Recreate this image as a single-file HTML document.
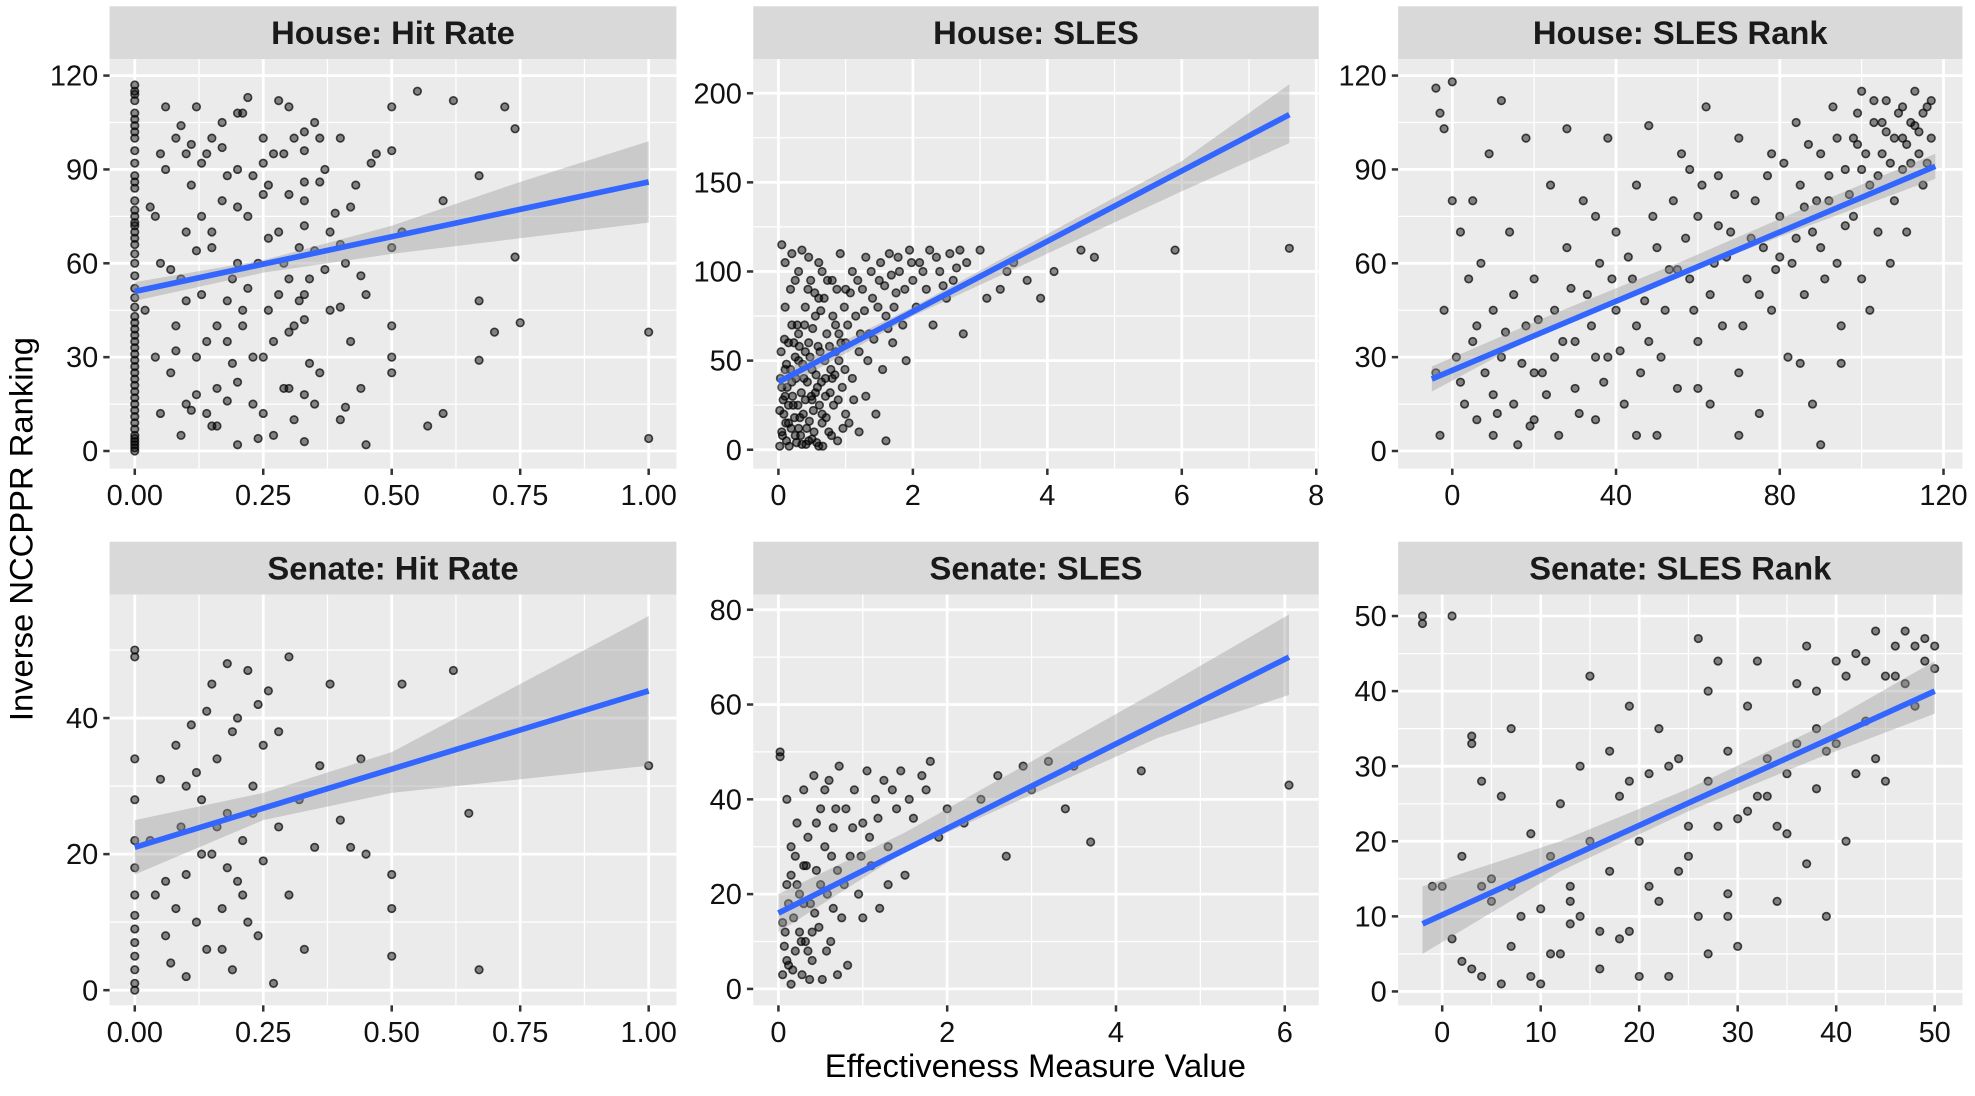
<!DOCTYPE html>
<html><head><meta charset="utf-8"><style>
html,body{margin:0;padding:0;background:#fff;}
svg{display:block;}
text{font-family:"Liberation Sans",Arial,sans-serif;}
</style></head><body>
<svg id="chart" width="1975" height="1096" viewBox="0 0 1568 870" preserveAspectRatio="none" xmlns="http://www.w3.org/2000/svg">
<text transform="translate(26,420) rotate(-90)" text-anchor="middle" font-size="26" fill="#000">Inverse NCCPPR Ranking</text>
<text x="822" y="855" text-anchor="middle" font-size="26" fill="#000">Effectiveness Measure Value</text>
</svg>
<script>
// ---- data ----
const houseHitZeroY=[0,1,2,3,4,5,7,9,11,13,15,17,19,21,23,25,27,29,31,33,35,37,39,41,43,46,49,52,56,60,63,66,68,70,72,73,75,77,80,84,86,88,92,96,100,102,104,106,108,112,114,115,117];
const houseHitPts=[[0.03,78],[0.05,12],[0.05,60],[0.06,90],[0.07,25],[0.08,40],[0.08,100],[0.09,5],[0.1,15],[0.1,70],[0.11,85],[0.12,30],[0.12,110],[0.13,50],[0.14,95],[0.15,8],[0.15,65],[0.16,20],[0.17,80],[0.17,105],[0.18,35],[0.19,55],[0.2,2],[0.2,90],[0.21,45],[0.22,75],[0.22,113],[0.23,15],[0.24,60],[0.25,100],[0.25,30],[0.26,85],[0.27,5],[0.28,50],[0.28,70],[0.29,95],[0.3,20],[0.3,110],[0.31,40],[0.32,65],[0.33,80],[0.33,3],[0.34,55],[0.35,105],[0.36,25],[0.37,90],[0.38,45],[0.38,70],[0.4,10],[0.4,100],[0.41,60],[0.42,35],[0.43,85],[0.44,20],[0.45,50],[0.45,2],[0.47,95],[0.5,65],[0.5,40],[0.5,25],[0.5,110],[0.52,70],[0.55,115],[0.57,8],[0.6,12],[0.6,80],[0.62,112],[0.67,29],[0.67,48],[0.67,88],[0.7,38],[0.72,110],[0.74,62],[0.74,103],[0.75,41],[1.0,38],[1.0,4],[0.02,45],[0.04,30],[0.06,110],[0.09,55],[0.11,98],[0.14,12],[0.16,40],[0.18,88],[0.2,60],[0.23,30],[0.26,45],[0.31,100],[0.35,15],[0.25,82],[0.15,70],[0.12,18],[0.3,55],[0.33,18],[0.33,42],[0.33,72],[0.33,96],[0.25,12],[0.2,22],[0.1,95],[0.04,75],[0.07,58],[0.09,104],[0.11,13],[0.12,64],[0.13,92],[0.14,35],[0.16,8],[0.17,97],[0.18,48],[0.19,28],[0.2,78],[0.21,108],[0.22,52],[0.23,88],[0.24,4],[0.26,68],[0.27,35],[0.28,112],[0.29,60],[0.3,82],[0.31,10],[0.32,48],[0.33,102],[0.34,28],[0.35,64],[0.36,86],[0.37,58],[0.39,76],[0.4,46],[0.41,14],[0.42,78],[0.44,56],[0.46,92],[0.5,30],[0.5,96],[0.08,32],[0.1,48],[0.15,100],[0.18,16],[0.21,40],[0.27,95],[0.29,20],[0.33,86],[0.33,50],[0.36,100],[0.4,66],[0.05,95],[0.13,75],[0.2,108],[0.25,92],[0.3,38]];
const houseSlesPts=[[0.02,2],[0.05,10],[0.08,20],[0.1,30],[0.1,45],[0.12,5],[0.15,60],[0.15,15],[0.18,90],[0.2,110],[0.2,38],[0.22,25],[0.25,8],[0.28,70],[0.3,50],[0.3,100],[0.32,18],[0.35,3],[0.38,40],[0.4,80],[0.4,28],[0.42,12],[0.45,60],[0.48,95],[0.5,6],[0.5,45],[0.52,22],[0.55,75],[0.58,35],[0.6,105],[0.6,2],[0.62,55],[0.65,15],[0.68,85],[0.7,30],[0.72,65],[0.75,10],[0.78,45],[0.8,95],[0.82,25],[0.85,70],[0.88,5],[0.9,50],[0.92,110],[0.95,35],[0.98,80],[1.0,60],[1.05,15],[1.1,100],[1.1,40],[1.15,75],[1.2,55],[1.25,90],[1.3,30],[1.3,108],[1.35,65],[1.4,85],[1.45,20],[1.5,95],[1.55,45],[1.6,75],[1.65,110],[1.7,60],[1.75,88],[1.8,100],[1.85,70],[1.9,50],[1.95,112],[2.0,95],[2.05,80],[2.1,105],[2.2,90],[2.25,112],[2.3,70],[2.4,100],[2.5,85],[2.55,110],[2.6,95],[2.7,112],[2.75,65],[2.8,105],[3.0,112],[3.1,85],[3.3,90],[3.4,100],[3.5,105],[3.7,95],[3.9,85],[4.1,100],[4.5,112],[4.7,108],[5.9,112],[7.6,113],[0.05,115],[0.1,80],[0.3,65],[0.45,5],[0.55,32],[0.7,40],[0.25,52],[0.15,25],[0.65,20],[0.85,55],[1.0,20],[1.2,10],[1.6,5],[0.35,112],[0.05,35],[0.12,48],[0.2,70],[0.4,55],[0.6,85],[0.8,40],[1.0,90],[0.3,12],[0.5,28],[0.9,65],[0.02,22],[0.03,40],[0.04,55],[0.06,8],[0.07,28],[0.09,62],[0.11,15],[0.13,35],[0.16,2],[0.18,45],[0.19,12],[0.21,30],[0.23,60],[0.24,18],[0.26,40],[0.27,4],[0.29,25],[0.31,58],[0.33,8],[0.34,32],[0.36,48],[0.37,20],[0.39,70],[0.41,3],[0.43,38],[0.44,90],[0.46,16],[0.47,52],[0.49,30],[0.51,68],[0.53,10],[0.54,88],[0.56,42],[0.57,4],[0.59,58],[0.61,25],[0.63,78],[0.64,38],[0.66,2],[0.69,50],[0.71,18],[0.73,95],[0.76,58],[0.77,32],[0.79,8],[0.81,75],[0.84,42],[0.87,90],[0.89,28],[0.93,60],[0.96,12],[0.99,45],[1.03,70],[1.07,88],[1.12,28],[1.18,95],[1.22,65],[1.28,78],[1.33,50],[1.38,100],[1.42,62],[1.48,80],[1.52,105],[1.58,92],[1.63,68],[1.68,98],[1.72,80],[1.78,108],[1.88,90],[1.98,105],[2.15,100],[2.35,108],[2.45,92],[2.65,102],[0.1,105],[0.25,95],[0.45,108],[0.65,100]];
const houseRankPts=[[-4,116],[-3,108],[-2,103],[0,118],[-2,45],[-4,25],[-3,5],[0,80],[1,30],[2,70],[3,15],[4,55],[5,35],[6,10],[7,60],[8,25],[9,95],[10,5],[10,45],[12,112],[12,30],[14,70],[15,15],[16,2],[18,40],[18,100],[20,55],[20,10],[22,25],[24,85],[25,45],[26,5],[28,103],[28,65],[30,20],[30,35],[32,80],[33,50],[35,10],[36,60],[38,30],[38,100],[40,45],[40,70],[42,15],[44,55],[45,85],[46,25],[48,35],[48,104],[50,65],[50,5],[52,45],[54,80],[55,20],[56,95],[58,55],[60,35],[60,75],[62,110],[63,15],[64,60],[65,88],[66,40],[68,70],[70,25],[70,100],[72,55],[74,80],[75,12],[76,65],[78,45],[78,95],[80,75],[82,30],[83,60],[84,105],[85,85],[86,50],[88,70],[88,15],[90,95],[90,2],[92,80],[93,110],[94,60],[95,40],[96,90],[98,100],[98,75],[100,115],[100,55],[102,85],[103,105],[104,70],[105,95],[106,112],[107,60],[108,100],[108,80],[110,110],[110,90],[111,70],[112,105],[113,115],[114,95],[115,85],[116,110],[117,100],[85,28],[70,5],[60,20],[45,5],[35,75],[25,30],[15,50],[5,80],[95,28],[58,90],[102,45],[105,105],[110,100],[112,92],[100,90],[96,72],[90,65],[80,62],[75,50],[65,72],[55,58],[45,40],[35,30],[20,25],[10,18],[2,22],[6,40],[11,12],[13,38],[17,28],[19,8],[21,42],[23,18],[27,35],[29,52],[31,12],[34,40],[37,22],[39,55],[41,32],[43,62],[47,48],[49,75],[51,30],[53,58],[57,68],[59,45],[61,85],[63,50],[67,62],[69,82],[71,40],[73,68],[77,88],[79,58],[81,92],[84,68],[87,98],[89,80],[91,55],[94,100],[97,82],[99,108],[101,95],[104,88],[106,102],[109,108],[111,98],[113,104],[115,108],[117,112],[116,92],[114,102],[107,92],[103,112],[99,98],[92,88],[86,78]];
const senateHitZeroY=[0,1,3,5,7,9,11,14,18,22,28,34,49,50];
const senateHitPts=[[0.03,22],[0.04,14],[0.05,31],[0.06,8],[0.07,4],[0.08,36],[0.09,24],[0.1,2],[0.1,17],[0.11,39],[0.12,10],[0.13,28],[0.14,6],[0.15,45],[0.15,20],[0.16,34],[0.17,12],[0.18,26],[0.18,48],[0.19,3],[0.2,40],[0.2,16],[0.21,22],[0.22,47],[0.23,30],[0.24,8],[0.25,36],[0.25,19],[0.26,44],[0.27,1],[0.28,24],[0.3,49],[0.3,14],[0.32,28],[0.33,6],[0.35,21],[0.36,33],[0.38,45],[0.4,25],[0.42,21],[0.45,20],[0.5,17],[0.5,12],[0.5,5],[0.52,45],[0.62,47],[0.65,26],[0.67,3],[0.44,34],[1.0,33],[0.12,32],[0.08,12],[0.22,10],[0.18,18],[0.28,38],[0.14,41],[0.06,16],[0.1,30],[0.16,24],[0.19,38],[0.21,14],[0.24,42],[0.17,6],[0.13,20],[0.23,26]];
const senateSlesPts=[[0.02,50],[0.02,49],[0.05,3],[0.08,12],[0.1,22],[0.12,5],[0.15,30],[0.15,1],[0.18,15],[0.2,8],[0.22,35],[0.25,20],[0.28,3],[0.3,42],[0.3,26],[0.32,10],[0.35,32],[0.38,18],[0.4,6],[0.42,45],[0.45,25],[0.48,13],[0.5,38],[0.52,2],[0.55,30],[0.58,20],[0.6,44],[0.62,10],[0.65,34],[0.7,25],[0.72,47],[0.75,15],[0.8,38],[0.82,5],[0.85,28],[0.9,42],[0.95,20],[1.0,35],[1.05,46],[1.1,26],[1.15,40],[1.2,17],[1.25,44],[1.3,30],[1.4,38],[1.45,46],[1.5,24],[1.6,36],[1.7,45],[1.8,48],[1.9,32],[2.0,38],[2.2,35],[2.4,40],[2.6,45],[2.7,28],[2.9,47],[3.0,42],[3.2,48],[3.4,38],[3.5,47],[3.7,31],[4.3,46],[6.05,43],[0.1,40],[0.2,28],[0.35,8],[0.55,42],[0.7,3],[0.25,12],[0.45,35],[1.0,15],[1.3,22],[0.65,17],[0.05,14],[0.1,6],[0.3,18],[0.4,12],[0.15,24],[0.07,9],[0.12,18],[0.17,4],[0.22,22],[0.27,10],[0.33,26],[0.37,2],[0.43,16],[0.5,22],[0.57,8],[0.63,28],[0.68,38],[0.78,22],[0.88,34],[0.98,28],[1.08,32],[1.18,36],[1.35,42],[1.55,40],[1.75,42]];
const senateRankPts=[[-2,49],[-2,50],[0,14],[1,50],[1,7],[2,18],[3,34],[3,33],[3,3],[4,28],[4,2],[5,12],[5,15],[6,26],[6,1],[7,35],[7,6],[8,10],[9,2],[9,21],[10,11],[10,1],[11,18],[12,25],[12,5],[13,9],[13,14],[14,30],[15,42],[15,20],[16,3],[16,8],[17,32],[17,16],[18,26],[19,8],[19,38],[20,20],[20,2],[21,29],[22,12],[22,35],[23,2],[24,31],[25,18],[25,22],[26,47],[27,40],[27,28],[28,44],[29,13],[29,32],[30,23],[30,6],[31,38],[32,44],[32,26],[33,31],[34,12],[35,29],[35,21],[36,41],[37,17],[37,46],[38,27],[38,35],[39,10],[40,44],[40,33],[41,20],[42,45],[42,29],[43,36],[44,48],[44,31],[45,28],[46,42],[46,46],[47,48],[48,38],[48,46],[49,47],[50,46],[50,43],[-1,14],[2,4],[4,14],[7,14],[11,5],[13,12],[14,10],[18,7],[19,28],[21,14],[23,30],[24,16],[26,10],[27,5],[28,22],[29,10],[31,24],[33,26],[34,22],[36,33],[38,40],[39,32],[41,42],[43,44],[45,42],[47,41],[49,44]];
// regression lines [x0,y0,x1,y1]
const houseHitFit=[0,51,1,86];
const houseSlesFit=[0,38,7.6,188];
const houseRankFit=[-5,23,118,91];
const senateHitFit=[0,21,1,44];
const senateSlesFit=[0,16,6.05,70];
const senateRankFit=[-2,9,50,40];
// confidence ribbons: x, lower, upper
const houseHitBandX=[0,0.25,0.5,0.75,1], houseHitBandLo=[48,57,63,68,73], houseHitBandHi=[54,61,72,86,99];
const houseSlesBandX=[0,2,4,6,7.6], houseSlesBandLo=[33,75,110,145,172], houseSlesBandHi=[43,80,121,162,205];
const houseRankBandX=[-5,25,55,85,118], houseRankBandLo=[19,40,56,71,87], houseRankBandHi=[27,44,60,77,95];
const senateHitBandX=[0,0.25,0.5,0.75,1], senateHitBandLo=[17,25,29,31,33], senateHitBandHi=[25,29,35,45,55];
const senateSlesBandX=[0,1.5,3,4.5,6.05], senateSlesBandLo=[12,29,41,53,62], senateSlesBandHi=[20,33,48,63,79];
const senateRankBandX=[-2,12,25,38,50], senateRankBandLo=[5,16,24,31,37], senateRankBandHi=[14,20,27,35,44];
// ticks
const ticksHitX=[0,0.25,0.5,0.75,1], ticksHitXLab=["0.00","0.25","0.50","0.75","1.00"];
const ticksHouseY=[0,30,60,90,120];
const ticksHouseSlesX=[0,2,4,6,8], ticksHouseSlesY=[0,50,100,150,200];
const ticksHouseRankX=[0,40,80,120];
const ticksSenateHitY=[0,20,40];
const ticksSenateSlesX=[0,2,4,6], ticksSenateSlesY=[0,20,40,60,80];
const ticksSenateRankX=[0,10,20,30,40,50], ticksSenateRankY=[0,10,20,30,40,50];

const NS="http://www.w3.org/2000/svg";
const svg=document.getElementById('chart');
function mk(tag,attrs,parent){const e=document.createElementNS(NS,tag);for(const k in attrs)e.setAttribute(k,attrs[k]);(parent||svg).appendChild(e);return e;}
function lin(d0,d1,r0,r1){return v=>r0+(v-d0)/(d1-d0)*(r1-r0);}

const panels=[
 {id:'house-hit-rate',title:'House: Hit Rate',box:[87,47,537,372],xs:lin(0,1,107,515),ys:lin(0,120,358,60),xt:ticksHitX,xl:ticksHitXLab,yt:ticksHouseY,pts:houseHitPts,zero:houseHitZeroY,fit:houseHitFit,bx:houseHitBandX,blo:houseHitBandLo,bhi:houseHitBandHi},
 {id:'house-sles',title:'House: SLES',box:[598,47,1047,372],xs:lin(0,8,618,1045),ys:lin(0,200,357,74),xt:ticksHouseSlesX,yt:ticksHouseSlesY,pts:houseSlesPts,fit:houseSlesFit,bx:houseSlesBandX,blo:houseSlesBandLo,bhi:houseSlesBandHi},
 {id:'house-sles-rank',title:'House: SLES Rank',box:[1110,47,1558,372],xs:lin(0,120,1153,1543),ys:lin(0,120,358,60),xt:ticksHouseRankX,yt:ticksHouseY,pts:houseRankPts,fit:houseRankFit,bx:houseRankBandX,blo:houseRankBandLo,bhi:houseRankBandHi},
 {id:'senate-hit-rate',title:'Senate: Hit Rate',box:[87,472,537,798],xs:lin(0,1,107,515),ys:lin(0,40,786,570),xt:ticksHitX,xl:ticksHitXLab,yt:ticksSenateHitY,pts:senateHitPts,zero:senateHitZeroY,fit:senateHitFit,bx:senateHitBandX,blo:senateHitBandLo,bhi:senateHitBandHi},
 {id:'senate-sles',title:'Senate: SLES',box:[598,472,1047,798],xs:lin(0,6,618,1020),ys:lin(0,80,785,484),xt:ticksSenateSlesX,yt:ticksSenateSlesY,pts:senateSlesPts,fit:senateSlesFit,bx:senateSlesBandX,blo:senateSlesBandLo,bhi:senateSlesBandHi},
 {id:'senate-sles-rank',title:'Senate: SLES Rank',box:[1110,472,1558,798],xs:lin(0,50,1145,1536),ys:lin(0,50,787,489),xt:ticksSenateRankX,yt:ticksSenateRankY,pts:senateRankPts,fit:senateRankFit,bx:senateRankBandX,blo:senateRankBandLo,bhi:senateRankBandHi}
];

panels.forEach(p=>{
 const [x0,y0,x1,y1]=p.box;
 const g=mk('g',{});
 
 
 const strip=mk('rect',{x:x0,y:y0-42,width:x1-x0,height:42,fill:'#D9D9D9'},g);
 
 
 const st=mk('text',{x:(x0+x1)/2,y:y0-12,'text-anchor':'middle','font-size':'26','font-weight':'bold',fill:'#1A1A1A'},g);
 st.textContent=p.title;
 
 
 const bg=mk('rect',{x:x0,y:y0,width:x1-x0,height:y1-y0,fill:'#EBEBEB'},g);
 
 
 for(let i=0;i<p.xt.length-1;i++){const m=p.xs((p.xt[i]+p.xt[i+1])/2);mk('line',{x1:m,x2:m,y1:y0,y2:y1,stroke:'#fff','stroke-width':1},g);}
 for(let i=0;i<p.yt.length-1;i++){const m=p.ys((p.yt[i]+p.yt[i+1])/2);mk('line',{x1:x0,x2:x1,y1:m,y2:m,stroke:'#fff','stroke-width':1},g);}
 const dx=p.xt[1]-p.xt[0];const lxm=p.xs(p.xt[0]-dx/2);if(lxm>x0)mk('line',{x1:lxm,x2:lxm,y1:y0,y2:y1,stroke:'#fff','stroke-width':1},g);
 const rxm=p.xs(p.xt[p.xt.length-1]+dx/2);if(rxm<x1)mk('line',{x1:rxm,x2:rxm,y1:y0,y2:y1,stroke:'#fff','stroke-width':1},g);
 const dy=p.yt[1]-p.yt[0];const tym=p.ys(p.yt[p.yt.length-1]+dy/2);if(tym>y0)mk('line',{x1:x0,x2:x1,y1:tym,y2:tym,stroke:'#fff','stroke-width':1},g);
 const bym=p.ys(p.yt[0]-dy/2);if(bym<y1)mk('line',{x1:x0,x2:x1,y1:bym,y2:bym,stroke:'#fff','stroke-width':1},g);
 p.xt.forEach((v,i)=>{const x=p.xs(v);
  mk('line',{x1:x,x2:x,y1:y0,y2:y1,stroke:'#fff','stroke-width':2.2},g);
  mk('line',{x1:x,x2:x,y1:y1,y2:y1+5,stroke:'#333','stroke-width':2},g);
  const t=mk('text',{x:x,y:y1+29,'text-anchor':'middle','font-size':'23',fill:'#111'},g);
  t.textContent=p.xl?p.xl[i]:String(v);
  
  });
 p.yt.forEach(v=>{const y=p.ys(v);
  mk('line',{x1:x0,x2:x1,y1:y,y2:y,stroke:'#fff','stroke-width':2.2},g);
  mk('line',{x1:x0-5,x2:x0,y1:y,y2:y,stroke:'#333','stroke-width':2},g);
  const t=mk('text',{x:x0-9,y:y+8,'text-anchor':'end','font-size':'23',fill:'#111'},g);
  t.textContent=String(v);
  
  });
 const pg=mk('g',{},g);
 
 
 const all=p.pts.slice();
 if(p.zero)p.zero.forEach(y=>all.push([0,y]));
 all.forEach(d=>{const c=mk('circle',{cx:p.xs(d[0]),cy:p.ys(d[1]),r:3,fill:'#000','fill-opacity':0.45,stroke:'#000','stroke-opacity':0.7,'stroke-width':1.3},pg);
  
  });
 let d='';p.bx.forEach((v,i)=>{d+=(i?'L':'M')+p.xs(v)+','+p.ys(p.bhi[i]);});
 for(let i=p.bx.length-1;i>=0;i--)d+='L'+p.xs(p.bx[i])+','+p.ys(p.blo[i]);
 const rb=mk('path',{d:d+'Z',fill:'#999','fill-opacity':0.4},g);
 
 
 const f=p.fit;
 const ln=mk('line',{x1:p.xs(f[0]),y1:p.ys(f[1]),x2:p.xs(f[2]),y2:p.ys(f[3]),stroke:'#3366FF','stroke-width':4.5},g);
 
 
});
</script>
</body></html>
